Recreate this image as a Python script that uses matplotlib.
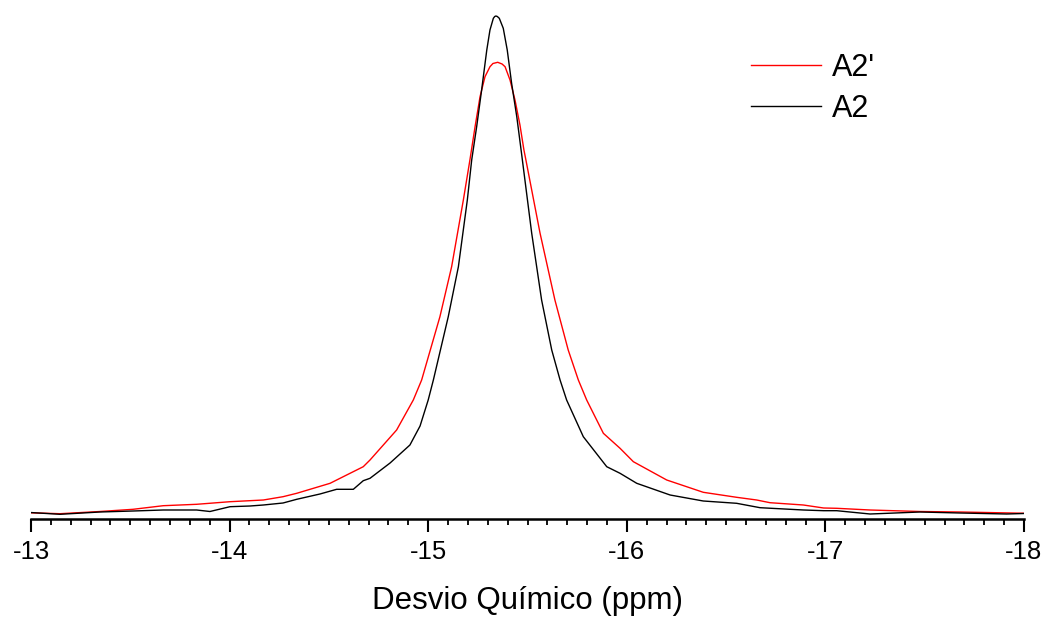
import matplotlib
matplotlib.use("Agg")
import matplotlib.pyplot as plt
from matplotlib.ticker import MultipleLocator

plt.rcParams['font.family'] = ['Liberation Sans', 'DejaVu Sans']

# A2 (black) - chemical shift (ppm) and intensity (a.u.)
a2_ppm = [-12.98, -13.146, -13.347, -13.514, -13.666, -13.834, -13.901, -14.002,
          -14.103, -14.170, -14.269, -14.338, -14.455, -14.539, -14.623, -14.673,
          -14.707, -14.808, -14.908, -14.959, -15.000, -15.026, -15.101, -15.152, -15.197,
          -15.219, -15.244, -15.269, -15.295, -15.311, -15.328, -15.335, -15.341, -15.348,
          -15.358, -15.378, -15.398, -15.420, -15.446, -15.471, -15.521, -15.571, -15.622,
          -15.664, -15.697, -15.781, -15.899, -15.966, -16.050, -16.218, -16.385,
          -16.553, -16.671, -16.889, -16.991, -17.057, -17.225, -17.476, -17.678,
          -17.913, -18.0]
a2_int = [6.7, 4.7, 7, 8, 9, 9, 7.5, 12.3,
          13, 14, 16, 19.7, 25, 29.7, 29.7, 38.3,
          40.7, 56, 74, 93, 119, 139, 202.3, 252.3, 319,
          359, 392.3, 429, 469, 489, 500.7, 502.5, 503, 502.5,
          500.7, 490.7, 469, 435.7, 402.3, 364, 286, 219, 169,
          139, 119, 82.3, 52.3, 45.7, 35.7, 24, 18,
          15.7, 11.3, 9, 8.3, 8.3, 5, 7, 6,
          5, 5.5]

# A2' (red)
a2p_ppm = [-12.98, -13.146, -13.347, -13.514, -13.666, -13.834, -14.002, -14.170,
           -14.269, -14.338, -14.506, -14.539, -14.673, -14.707, -14.841, -14.925,
           -14.967, -15.059, -15.118, -15.177, -15.210, -15.236, -15.261, -15.286,
           -15.311, -15.326, -15.350, -15.372, -15.387, -15.412, -15.437, -15.462, -15.482,
           -15.492, -15.563, -15.638, -15.705, -15.756, -15.798, -15.882, -15.966, -16.033,
           -16.201, -16.385, -16.553, -16.654, -16.721, -16.889, -16.991, -17.057,
           -17.225, -17.476, -17.678, -18.014]
a2p_int = [6.3, 5.3, 7.5, 9.7, 13.3, 14.7, 17.3, 19,
           22.3, 25.7, 35.7, 39, 52.3, 59, 89, 119,
           139, 202.3, 252.3, 319, 359, 392.3, 422.3, 442.3,
           452.3, 455.5, 456.7, 455, 452.3, 439, 419, 394, 369,
           359, 286, 219, 169, 139, 119, 85.7, 70.7, 57.3,
           39, 26.7, 21.7, 19, 16.3, 14, 11, 10.7,
           9, 7.5, 7, 5.7]

fig = plt.figure(figsize=(10.43, 6.17), dpi=100)
ax = fig.add_axes([31 / 1043, 98 / 617, 993 / 1043, 519 / 617])

ax.plot(a2p_ppm, a2p_int, color="red", lw=1.0, label="A2'")
ax.plot(a2_ppm, a2_int, color="black", lw=1.0, label="A2")

ax.set_xlim(-13, -18)
ax.set_ylim(0, 519)

for s in ["left", "top", "right"]:
    ax.spines[s].set_visible(False)
ax.spines["bottom"].set_linewidth(1.8)
ax.set_yticks([])
ax.xaxis.set_major_locator(MultipleLocator(1))
ax.xaxis.set_minor_locator(MultipleLocator(0.1))
ax.tick_params(axis="x", which="major", length=9, width=1.5, labelsize=18.5, pad=6)
ax.tick_params(axis="x", which="minor", length=4.5, width=1.3)
ax.set_xticks([-13, -14, -15, -16, -17, -18])
ax.set_xticklabels(["-13", "-14", "-15", "-16", "-17", "-18"])
ax.set_xlabel("Desvio Químico (ppm)", fontsize=22.5, labelpad=16)

ax.legend(loc="upper left", bbox_to_anchor=(751 / 1043, 1 - 53 / 617),
          bbox_transform=fig.transFigure, frameon=False, fontsize=22,
          handlelength=2.29, handletextpad=0.36, borderpad=0, borderaxespad=0,
          labelspacing=0.35)

fig.savefig("out.png", dpi=100)
